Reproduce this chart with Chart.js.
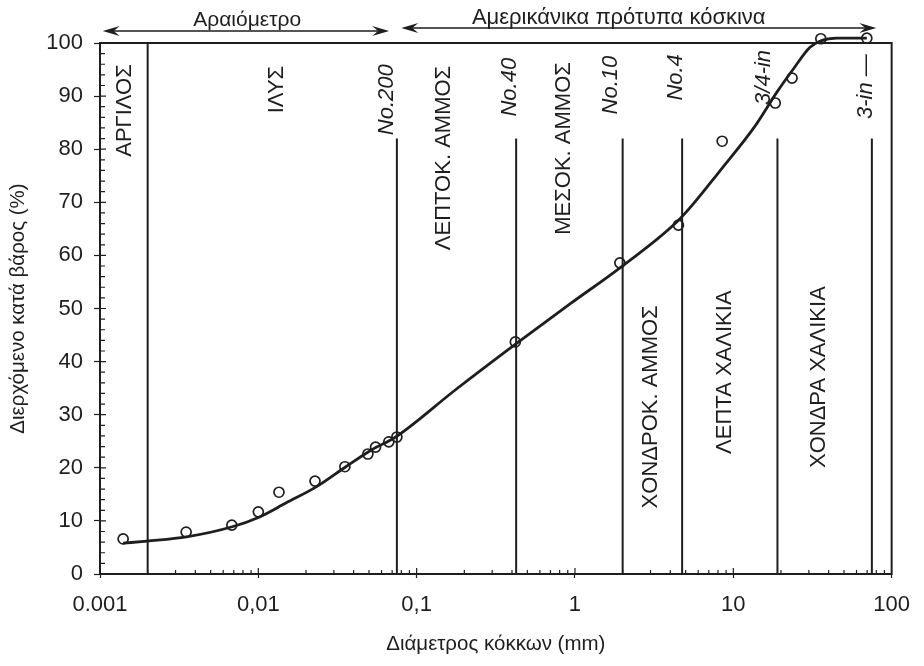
<!DOCTYPE html>
<html>
<head>
<meta charset="utf-8">
<script src="https://cdn.jsdelivr.net/npm/chart.js@4.4.1/dist/chart.umd.min.js"></script>
<style>
  html, body { margin: 0; padding: 0; background: #fff; }
</style>
</head>
<body>
<canvas id="gradation" width="924" height="666"></canvas>
<script>
// measured points: grain diameter (mm) / percent passing
const sampleSize = [0.0014, 0.0035, 0.0068, 0.0100, 0.0135, 0.0228, 0.0352, 0.0492, 0.055, 0.0667, 0.075, 0.42, 1.92, 4.5, 8.5, 18.4, 23.5, 35.7, 69.7];
const samplePassing = [6.6, 7.9, 9.2, 11.7, 15.4, 17.5, 20.2, 22.6, 23.9, 24.9, 25.8, 43.7, 58.6, 65.7, 81.5, 88.7, 93.4, 100.8, 100.9];

// fitted gradation curve
const curveSize = [0.0014, 0.00198, 0.00352, 0.00685, 0.0101, 0.0150, 0.0232, 0.0357, 0.0521, 0.0737, 0.176, 0.413, 0.944, 1.95, 4.64, 8.53, 13.6, 18.9, 24.2, 30.5, 35.7, 45.1, 69.7];
const curvePassing = [5.8, 6.2, 7.0, 8.9, 10.7, 13.4, 16.4, 20.2, 23.4, 25.8, 34.7, 43.1, 51.0, 57.8, 67.0, 76.5, 84.2, 90.8, 95.3, 99.2, 100.4, 100.9, 100.9];

// class boundaries
const clayLimit = 0.002;
const sieveSizes = [0.075, 0.425, 2.0, 4.75, 19, 75];
const sieveNames = ['No.200', 'No.40', 'No.10', 'No.4', '3/4-in', '3-in —'];
const soilNames = ['ΑΡΓΙΛΟΣ', 'ΙΛΥΣ', 'ΛΕΠΤΟΚ. ΑΜΜΟΣ', 'ΜΕΣΟΚ. ΑΜΜΟΣ', 'ΧΟΝΔΡΟΚ. ΑΜΜΟΣ', 'ΛΕΠΤΑ ΧΑΛΙΚΙΑ', 'ΧΟΝΔΡΑ ΧΑΛΙΚΙΑ'];

// axis ticks
const tickValues = [0.001, 0.01, 0.1, 1, 10, 100];
const tickLabels = ['0.001', '0,01', '0,1', '1', '10', '100'];

const hydroLabel = 'Αραιόμετρο';
const sieveLabel = 'Αμερικάνικα πρότυπα κόσκινα';

// where the rotated labels sit (x in mm, top end in %)
const sieveLabelPos = [[0.0647, 96.0], [0.39, 97.2], [1.68, 97.6], [4.31, 97.9], [15.5, 98.7], [68.5, 97.9]];
const soilLabelPos = [[0.00144, 96.0], [0.0132, 95.7], [0.148, 95.7], [0.853, 96.4], [3.0, 50.6], [8.9, 53.4], [34.8, 54.2]];

const ink = '#1e1e1e';
const fontFamily = '"Liberation Sans", Arial, Helvetica, sans-serif';

function arrowHead(ctx, tipX, tipY, dir) {
  ctx.beginPath();
  ctx.moveTo(tipX, tipY);
  ctx.lineTo(tipX - dir * 17, tipY - 5);
  ctx.lineTo(tipX - dir * 11, tipY);
  ctx.lineTo(tipX - dir * 17, tipY + 5);
  ctx.closePath();
  ctx.fill();
}

function rotatedText(ctx, text, px, py, italic) {
  ctx.save();
  ctx.translate(px, py);
  ctx.rotate(-Math.PI / 2);
  ctx.font = (italic ? 'italic ' : '') + '22px ' + fontFamily;
  ctx.textAlign = 'right';
  ctx.textBaseline = 'middle';
  ctx.fillText(text, 0, 0);
  ctx.restore();
}

const overlayPlugin = {
  id: 'overlay',
  afterDatasetsDraw(chart) {
    const { ctx, chartArea: a, scales: { x, y } } = chart;
    ctx.save();
    ctx.strokeStyle = ink;
    ctx.fillStyle = ink;

    // frame
    ctx.lineWidth = 2;
    ctx.strokeRect(a.left, a.top, a.right - a.left, a.bottom - a.top);

    // small inward ticks
    ctx.lineWidth = 1.2;
    ctx.beginPath();
    for (let d = -3; d < 2; d++) {
      for (let m = 1; m < 10; m++) {
        const px = x.getPixelForValue(m * Math.pow(10, d));
        ctx.moveTo(px, a.bottom);
        ctx.lineTo(px, a.bottom - (m === 1 ? 6 : 4));
      }
    }
    for (let v = 2; v < 100; v += 2) {
      const py = y.getPixelForValue(v);
      ctx.moveTo(a.left, py);
      ctx.lineTo(a.left + (v % 10 === 0 ? 6 : 5), py);
    }
    ctx.stroke();

    // rotated labels
    sieveNames.forEach((t, i) => {
      rotatedText(ctx, t, x.getPixelForValue(sieveLabelPos[i][0]), y.getPixelForValue(sieveLabelPos[i][1]), true);
    });
    soilNames.forEach((t, i) => {
      rotatedText(ctx, t, x.getPixelForValue(soilLabelPos[i][0]), y.getPixelForValue(soilLabelPos[i][1]), false);
    });

    // arrows above the chart
    ctx.lineWidth = 1.6;
    const y1 = a.top - 12, y2 = a.top - 15;
    const h0 = x.getPixelForValue(0.00104), h1 = x.getPixelForValue(0.067);
    const s0 = x.getPixelForValue(0.08), s1 = x.getPixelForValue(80);
    ctx.beginPath();
    ctx.moveTo(h0 + 8, y1); ctx.lineTo(h1 - 8, y1);
    ctx.moveTo(s0 + 8, y2); ctx.lineTo(s1 - 8, y2);
    ctx.stroke();
    arrowHead(ctx, h0, y1, -1);
    arrowHead(ctx, h1, y1, 1);
    arrowHead(ctx, s0, y2, -1);
    arrowHead(ctx, s1, y2, 1);

    ctx.font = '21px ' + fontFamily;
    ctx.textAlign = 'center';
    ctx.textBaseline = 'alphabetic';
    ctx.fillText(hydroLabel, x.getPixelForValue(0.0085), a.top - 17);
    ctx.font = '22px ' + fontFamily;
    ctx.fillText(sieveLabel, x.getPixelForValue(1.89), a.top - 19);
    ctx.restore();
  }
};

// boundary lines as two-point datasets
const boundaryLines = [{ size: clayLimit, top: 100 }].concat(sieveSizes.map(s => ({ size: s, top: 82 })));
const boundarySets = boundaryLines.map(b => ({
  type: 'line',
  data: [{ x: b.size, y: 0 }, { x: b.size, y: b.top }],
  borderColor: ink,
  borderWidth: 2,
  pointRadius: 0,
  clip: false
}));

const ctx = document.getElementById('gradation').getContext('2d');
new Chart(ctx, {
  type: 'scatter',
  data: {
    datasets: boundarySets.concat([
      {
        type: 'line',
        data: curveSize.map((s, i) => ({ x: s, y: curvePassing[i] })),
        borderColor: ink,
        borderWidth: 2.8,
        pointRadius: 0,
        cubicInterpolationMode: 'monotone',
        clip: false
      },
      {
        data: sampleSize.map((s, i) => ({ x: s, y: samplePassing[i] })),
        pointStyle: 'circle',
        pointRadius: 5,
        borderWidth: 1.7,
        borderColor: ink,
        backgroundColor: 'rgba(0,0,0,0)',
        clip: false
      }
    ])
  },
  options: {
    responsive: false,
    animation: false,
    devicePixelRatio: 1,
    layout: { padding: { top: 43, right: 31, left: 0, bottom: 0 } },
    plugins: {
      legend: { display: false },
      tooltip: { enabled: false }
    },
    scales: {
      x: {
        type: 'logarithmic',
        min: 0.001,
        max: 100,
        afterBuildTicks: scale => { scale.ticks = tickValues.map(v => ({ value: v })); },
        afterFit: scale => { scale.height = 92; },
        ticks: {
          callback: (v, i) => tickLabels[i],
          autoSkip: false,
          maxRotation: 0,
          padding: 14,
          color: ink,
          font: { family: fontFamily, size: 22 }
        },
        grid: { drawOnChartArea: false, tickLength: 4, color: ink, tickWidth: 1.2 },
        border: { display: true, color: ink, width: 2 },
        title: {
          display: true,
          text: 'Διάμετρος κόκκων (mm)',
          color: ink,
          font: { family: fontFamily, size: 20.5 },
          padding: { top: 0, bottom: 9 }
        }
      },
      y: {
        min: 0,
        max: 100,
        afterFit: scale => { scale.width = 100; },
        ticks: {
          stepSize: 10,
          padding: 11,
          color: ink,
          font: { family: fontFamily, size: 22 }
        },
        grid: { drawOnChartArea: false, tickLength: 6, color: ink, tickWidth: 1.2 },
        border: { display: true, color: ink, width: 2 },
        title: {
          display: true,
          text: 'Διερχόμενο κατά βάρος (%)',
          color: ink,
          font: { family: fontFamily, size: 20.5 },
          padding: { top: 6, bottom: 0 }
        }
      }
    }
  },
  plugins: [overlayPlugin]
});
</script>
</body>
</html>
